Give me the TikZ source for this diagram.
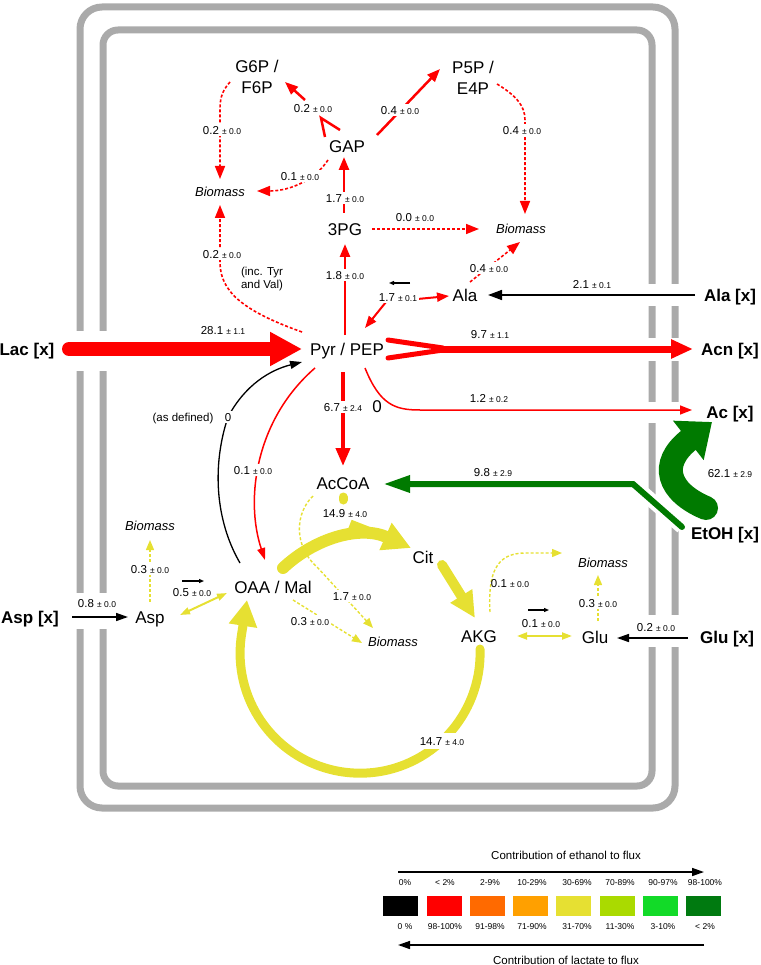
\documentclass[tikz,border=0pt]{standalone}
\usepackage{fontspec}
\setmainfont{Liberation Sans}
\usetikzlibrary{arrows.meta,calc,backgrounds}
\definecolor{fred}{RGB}{255,0,0}
\definecolor{fyel}{RGB}{230,224,50}
\definecolor{fgrn}{RGB}{0,122,0}
\definecolor{memb}{RGB}{170,170,170}
\definecolor{lorange}{RGB}{255,106,0}
\definecolor{lamber}{RGB}{255,160,0}
\definecolor{lygreen}{RGB}{170,218,0}
\definecolor{lgreen}{RGB}{18,218,40}
\definecolor{ldgreen}{RGB}{0,122,16}
\newcommand\fl[2]{#1 {\fontsize{8.5}{10}\selectfont ± #2}}
\begin{document}
\begin{tikzpicture}[x=1pt,y=-1pt,
  met/.style={font=\fontsize{17}{20.4}\selectfont,inner sep=1pt,text height=12.2pt,text depth=0pt},
  mettwo/.style={font=\fontsize{17}{20.4}\selectfont,inner sep=1pt,align=center},
  ext/.style={font=\bfseries\fontsize{17}{20.4}\selectfont,inner sep=1pt,text height=12.2pt,text depth=0pt},
  bio/.style={font=\itshape\fontsize{13}{15}\selectfont,inner sep=1pt,text height=9.3pt,text depth=0pt},
  lab/.style={font=\fontsize{11.5}{13.5}\selectfont,inner sep=1.5pt,text height=8.3pt,text depth=0pt,fill=white},
  labnf/.style={font=\fontsize{11.5}{13.5}\selectfont,inner sep=1.5pt,text height=8.3pt,text depth=0pt},
  note/.style={font=\fontsize{11.5}{13.5}\selectfont,inner sep=1pt,align=center},
  pct/.style={font=\fontsize{8.5}{10}\selectfont,inner sep=0pt},
  legbox/.style={minimum width=35pt,minimum height=20pt,inner sep=0pt},
  rflux/.style={draw=fred,line width=2.5pt},
  rdot/.style={draw=fred,line width=1.6pt,dash pattern=on 3pt off 2pt},
  ydot/.style={draw=fyel,line width=1.4pt,dash pattern=on 3pt off 2pt},
  bflux/.style={draw=black,line width=1.6pt},
  tipm/.style={-{Triangle[length=13pt,width=10pt]}},
  tips/.style={-{Triangle[length=10pt,width=8pt]}},
  dtip/.style={{Triangle[length=10pt,width=7pt]}-{Triangle[length=10pt,width=7pt]}},
  tinyarrow/.style={draw=black,line width=1.1pt,-{Triangle[length=5pt,width=4pt]}}
]
\useasboundingbox (0,0) rectangle (760,965);

% ---------- metabolites ----------
\node[mettwo] (g6p) at (257,77) {G6P /\\F6P};
\node[mettwo] (p5p) at (473,78) {P5P /\\E4P};
\node[met] (gap) at (347,146) {GAP};
\node[bio] (bmA) at (220,192) {Biomass};
\node[met] (pg) at (345,229) {3PG};
\node[bio] (bmB) at (521,229) {Biomass};
\node[met] (ala) at (465,295) {Ala};
\node[ext] (alax) at (730,295) {Ala [x]};
\node[met] (pyr) at (347,349) {Pyr / PEP};
\node[ext] (lac) at (27,349) {Lac [x]};
\node[ext] (acn) at (730,349) {Acn [x]};
\node[ext] (ac) at (730,412) {Ac [x]};
\node[met] (accoa) at (343,483) {AcCoA};
\node[ext] (etoh) at (725,533) {EtOH [x]};
\node[met] (cit) at (423,557) {Cit};
\node[bio] (bmC) at (150,526) {Biomass};
\node[ext] (aspx) at (30,617) {Asp [x]};
\node[met] (asp) at (150,617) {Asp};
\node[met] (oaa) at (273,587) {OAA / Mal};
\node[bio] (bmD) at (393,642) {Biomass};
\node[met] (akg) at (479,636) {AKG};
\node[met] (glu) at (595,637) {Glu};
\node[ext] (glux) at (727,637) {Glu [x]};
\node[bio] (bmE) at (603,563) {Biomass};

% ---------- membrane (background) ----------
\begin{scope}[on background layer]
  \draw[memb,line width=7pt,rounded corners=22pt] (80,7) rectangle (675,808);
  \draw[memb,line width=7pt,rounded corners=15pt] (103,30) rectangle (652,786);
  \fill[white] (72,331) rectangle (112,371);
  \fill[white] (72,593) rectangle (112,629);
  \fill[white] (644,284) rectangle (683,306);
  \fill[white] (644,338) rectangle (683,361);
  \fill[white] (644,402) rectangle (683,423);
  \fill[white] (667,423) rectangle (683,527);
  \fill[white] (644,615) rectangle (683,647);
  \draw[white,line width=14pt] ($(etoh)+(-43,-6)$) -- (633,484);
  \draw[white,line width=30pt] ($(etoh)+(-19,-25)$) .. controls (668,492) and (660,462) .. (688,440);
\end{scope}

% ---------- red fluxes ----------
\draw[fred,line width=14pt,line cap=round,-{Triangle[length=32pt,width=32pt]}] ($(lac)+(42,0)$) -- ($(pyr)+(-45,0)$);
\draw[fred,line width=5pt,line cap=round] ($(pyr)+(41,-9)$) -- ($(pyr)+(96,-1)$);
\draw[fred,line width=5pt,line cap=round] ($(pyr)+(41,9)$) -- ($(pyr)+(96,1)$);
\draw[fred,line width=7pt,-{Triangle[length=22pt,width=18pt]}] ($(pyr)+(93,0)$) -- ($(acn)+(-37,0)$);
\draw[fred,line width=1.5pt,-{Triangle[length=12pt,width=9pt]}] ($(pyr)+(18,19)$) .. controls (380,405) and (395,410) .. (420,410) -- ($(ac)+(-38,-2)$);
\draw[fred,line width=4pt,-{Triangle[length=18pt,width=14pt]}] ($(pyr)+(-4,23)$) -- ($(accoa)+(0,-17)$);
\draw[rflux,tipm] ($(pyr)+(-2,-14)$) -- ($(pg)+(0,15)$);
\draw[rflux,tipm] ($(pg)+(-1,-16)$) -- ($(gap)+(-3,11)$);
\draw[rflux,line join=miter] ($(gap)+(-22,-9)$) -- ($(gap)+(-26,-28)$) -- ($(gap)+(-7,-16)$);
\draw[rflux,tipm] ($(gap)+(-42,-46)$) -- ($(g6p)+(28,5)$);
\draw[rflux,tipm] ($(gap)+(30,-11)$) -- ($(p5p)+(-33,-9)$);
\draw[rdot,tipm] ($(g6p)+(-27,5)$) .. controls (221,92) and (220,100) .. (220,110) -- ($(bmA)+(0,-13)$);
\draw[rdot,tipm] ($(gap)+(-19,14)$) .. controls (315,180) and (290,191) .. ($(bmA)+(37,-1)$);
\draw[rdot,tipm] ($(pyr)+(-45,-17)$) .. controls (240,310) and (220,290) .. (220,262) -- ($(bmA)+(0,13)$);
\draw[rdot,tipm] ($(pg)+(27,0)$) -- ($(bmB)+(-42,0)$);
\draw[rdot,tipm] ($(p5p)+(24,6)$) .. controls (515,95) and (525,105) .. (525,120) -- ($(bmB)+(4,-15)$);
\draw[rdot,tipm] ($(ala)+(5,-13)$) -- ($(bmB)+(-1,13)$);
\draw[fred,line width=2pt,{Triangle[length=12pt,width=9pt]}-{Triangle[length=12pt,width=9pt]}] ($(pyr)+(18,-21)$) -- (386,302) -- ($(ala)+(-16,1)$);
\draw[fred,line width=1.5pt,-{Triangle[length=12pt,width=8pt]}] ($(pyr)+(-32,19)$) .. controls (255,420) and (245,500) .. ($(oaa)+(-8,-27)$);

% ---------- black fluxes ----------
\draw[bflux,-{Triangle[length=14pt,width=10pt]}] ($(alax)+(-35,0)$) -- ($(ala)+(23,0)$);
\draw[draw=black,line width=1.3pt,-{Triangle[length=12pt,width=8pt]}] ($(oaa)+(-33,-24)$) .. controls (215,520) and (212,465) .. (228,417) .. controls (245,385) and (270,370) .. ($(pyr)+(-45,13)$);
\draw[bflux,-{Triangle[length=12pt,width=8pt]}] ($(aspx)+(42,0)$) -- ($(asp)+(-22,0)$);
\draw[bflux,-{Triangle[length=12pt,width=8pt]}] ($(glux)+(-39,1)$) -- ($(glu)+(22,1)$);

% ---------- yellow fluxes ----------
\draw[fyel,line width=2pt,dtip] ($(asp)+(30,-2)$) -- ($(oaa)+(-46,6)$);
\draw[ydot,tips] ($(asp)+(0,-15)$) -- ($(bmC)+(0,14)$);
\draw[fyel,line width=9pt,line cap=round] ($(accoa)+(0,14)$) -- ($(accoa)+(0,17)$);
\draw[fyel,line width=9pt] ($(accoa)+(7,41)$) -- (386,538);
\draw[fyel,line width=12pt,line cap=round,-{Triangle[length=28pt,width=28pt]}] ($(oaa)+(10,-19)$) .. controls (315,538) and (360,525) .. ($(cit)+(-12,-9)$);
\draw[fyel,line width=10pt,line cap=round,-{Triangle[length=26pt,width=24pt]}] ($(cit)+(19,8)$) -- ($(akg)+(-4,-18)$);
\draw[fyel,line width=9pt,line cap=round,-{Triangle[length=26pt,width=27pt]}] ($(akg)+(1,13)$) arc[start angle=-2,end angle=190,radius=120] -- ($(oaa)+(-26,13)$);
\draw[fyel,line width=2pt,dtip] ($(akg)+(38,0)$) -- ($(glu)+(-23,-1)$);
\draw[ydot,tips] ($(akg)+(11,-24)$) .. controls (488,575) and (495,553) .. (525,553) -- ($(bmE)+(-41,-10)$);
\draw[ydot,tips] ($(glu)+(3,-16)$) -- ($(bmE)+(-5,12)$);
\draw[ydot,tips] ($(accoa)+(-30,13)$) .. controls (296,512) and (292,545) .. (318,568) -- ($(bmD)+(-20,-14)$);
\draw[ydot,tips] ($(oaa)+(20,13)$) -- ($(bmD)+(-31,1)$);

% ---------- green fluxes ----------
\draw[fgrn,line width=6pt,line cap=round,-{Triangle[length=27pt,width=16pt]}] ($(etoh)+(-43,-6)$) -- (633,484) -- ($(accoa)+(40,1)$);
\draw[fgrn,line width=24pt,line cap=round,-{Triangle[length=30pt,width=48pt]}] ($(etoh)+(-19,-25)$) .. controls (668,492) and (658,464) .. ($(ac)+(-18,10)$);

% ---------- direction markers ----------
\coordinate (dA1) at (410,283); \coordinate (dA2) at (389,283);
\coordinate (dB1) at (182,581); \coordinate (dB2) at (204,581);
\coordinate (dC1) at (528,610); \coordinate (dC2) at (549,610);
\draw[tinyarrow] (dA1) -- (dA2);
\draw[tinyarrow] (dB1) -- (dB2);
\draw[tinyarrow] (dC1) -- (dC2);

% ---------- flux labels ----------
\node[lab] (l1) at (313,108) {\fl{0.2}{0.0}};
\node[lab] (l2) at (400,110) {\fl{0.4}{0.0}};
\node[lab] (l3) at (222,130) {\fl{0.2}{0.0}};
\node[lab] (l4) at (522,130) {\fl{0.4}{0.0}};
\node[lab] (l5) at (300,176) {\fl{0.1}{0.0}};
\node[lab] (l6) at (345,198) {\fl{1.7}{0.0}};
\node[labnf] (l7) at (415,217) {\fl{0.0}{0.0}};
\node[lab] (l8) at (222,254) {\fl{0.2}{0.0}};
\node[note] (incnote) at (262,279) {(inc. Tyr\\and Val)};
\node[lab] (l9) at (345,275) {\fl{1.8}{0.0}};
\node[lab] (l10) at (489,268) {\fl{0.4}{0.0}};
\node[lab] (l11) at (398,297) {\fl{1.7}{0.1}};
\node[labnf] (l12) at (592,284) {\fl{2.1}{0.1}};
\node[labnf] (l13) at (223,330) {\fl{28.1}{1.1}};
\node[labnf] (l14) at (490,334) {\fl{9.7}{1.1}};
\node[labnf] (l15) at (489,398) {\fl{1.2}{0.2}};
\node[lab] (l16) at (343,407) {\fl{6.7}{2.4}};
\node[met] (zeroB) at (377,406) {0};
\node[labnf] (asdef) at (183,417) {(as defined)};
\node[lab] (zeroA) at (228,417) {0};
\node[lab] (l17) at (253,470) {\fl{0.1}{0.0}};
\node[labnf] (l18) at (493,472) {\fl{9.8}{2.9}};
\node[labnf] (l19) at (730,473) {\fl{62.1}{2.9}};
\node[lab] (l20) at (345,513) {\fl{14.9}{4.0}};
\node[lab] (l21) at (150,569) {\fl{0.3}{0.0}};
\node[labnf] (l22) at (192,592) {\fl{0.5}{0.0}};
\node[labnf] (l23) at (97,603) {\fl{0.8}{0.0}};
\node[lab] (l24) at (352,596) {\fl{1.7}{0.0}};
\node[lab] (l25) at (310,621) {\fl{0.3}{0.0}};
\node[labnf] (l26) at (510,583) {\fl{0.1}{0.0}};
\node[lab] (l27) at (598,603) {\fl{0.3}{0.0}};
\node[labnf] (l28) at (541,623) {\fl{0.1}{0.0}};
\node[labnf] (l29) at (656,627) {\fl{0.2}{0.0}};
\node[lab,inner sep=4pt] (l30) at (442,741) {\fl{14.7}{4.0}};

% ---------- legend ----------
\node[labnf] (legtop) at (566,855) {Contribution of ethanol to flux};
\node[labnf] (legbot) at (566,960) {Contribution of lactate to flux};
\coordinate (lt1) at (398,872); \coordinate (lt2) at (704,872);
\coordinate (lb1) at (704,945); \coordinate (lb2) at (398,945);
\draw[black,line width=1.5pt,-{Triangle[length=12pt,width=8pt]}] (lt1) -- (lt2);
\draw[black,line width=1.5pt,-{Triangle[length=12pt,width=8pt]}] (lb1) -- (lb2);
\node[legbox,fill=black] (k1) at (400,906) {};
\node[legbox,fill=fred] (k2) at (444.5,906) {};
\node[legbox,fill=lorange] (k3) at (487.5,906) {};
\node[legbox,fill=lamber] (k4) at (530.5,906) {};
\node[legbox,fill=fyel] (k5) at (573.5,906) {};
\node[legbox,fill=lygreen] (k6) at (617,906) {};
\node[legbox,fill=lgreen] (k7) at (660.5,906) {};
\node[legbox,fill=ldgreen] (k8) at (703.5,906) {};
\node[pct] (t1) at (405,883) {0\%};
\node[pct] (t2) at (445,883) {< 2\%};
\node[pct] (t3) at (490,883) {2-9\%};
\node[pct] (t4) at (532,883) {10-29\%};
\node[pct] (t5) at (577,883) {30-69\%};
\node[pct] (t6) at (620,883) {70-89\%};
\node[pct] (t7) at (663,883) {90-97\%};
\node[pct] (t8) at (705,883) {98-100\%};
\node[pct] (b1) at (405,927) {0 \%};
\node[pct] (b2) at (445,927) {98-100\%};
\node[pct] (b3) at (490,927) {91-98\%};
\node[pct] (b4) at (532,927) {71-90\%};
\node[pct] (b5) at (577,927) {31-70\%};
\node[pct] (b6) at (620,927) {11-30\%};
\node[pct] (b7) at (663,927) {3-10\%};
\node[pct] (b8) at (705,927) {< 2\%};
\end{tikzpicture}
\end{document}
